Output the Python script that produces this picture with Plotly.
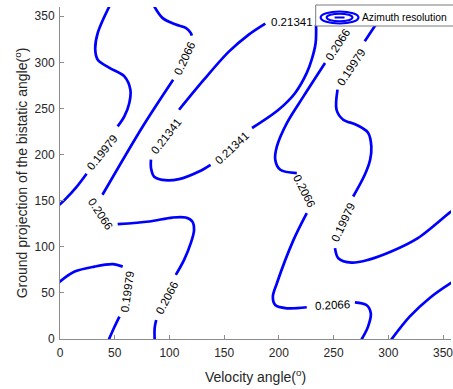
import plotly.graph_objects as go

# Contour levels of the azimuth resolution
LEVELS = [0.19979, 0.2066, 0.21341]

# Each branch: x = velocity angle (deg), y = ground projection of bistatic angle (deg)
# --- level 0.19979 ---
r1_upper_a_x = [45.2, 34.5, 32.2, 34.5, 45.2, 58.8, 64.3, 63.4, 58.8, 52.7]
r1_upper_a_y = [361.0, 331.9, 313.8, 302.9, 293.9, 284.8, 270.4, 256.2, 241.4, 230.5]
r1_upper_b_x = [24.3, 15.2, 4.3, -1.0]
r1_upper_b_y = [179.2, 165.0, 150.9, 145.0]
r1_lower_a_x = [-1.0, 13.4, 31.5, 48.2, 57.3]
r1_lower_a_y = [61.5, 73.1, 78.5, 81.1, 78.5]
r1_lower_b_x = [54.3, 49.3, 44.5]
r1_lower_b_y = [24.2, 11.9, -1.0]
r1_right_a_x = [300.5, 287.6, 278.5]
r1_right_a_y = [361.0, 339.1, 322.8]
r1_right_b_x = [253.6, 252.7, 258.8, 270.6, 281.5, 284.5, 283.4, 278.5, 267.9]
r1_right_b_y = [270.4, 248.6, 237.8, 232.4, 223.7, 208.8, 194.4, 178.1, 154.5]
r1_right_c_x = [251.3, 254.3, 266.4, 281.5, 302.7, 327.0, 357.0, 362.0]
r1_right_c_y = [98.5, 87.6, 82.8, 85.8, 94.8, 109.3, 137.9, 142.0]
r1_corner_x = [302.5, 319.5, 337.6, 357.0, 362.0]
r1_corner_y = [-1.0, 24.2, 44.2, 60.5, 64.0]

# --- level 0.2066 ---
r2_left_a_x = [86.0, 93.6, 105.8, 114.9, 119.5, 120.4]
r2_left_a_y = [361.0, 348.2, 340.9, 337.4, 331.9, 329.0]
r2_left_b_x = [103.4, 75.6, 38.8]
r2_left_b_y = [281.2, 230.5, 156.4]
r2_left_c_x = [52.7, 81.5, 102.7, 114.9, 120.9, 122.5, 119.5, 113.4, 105.8]
r2_left_c_y = [124.5, 127.4, 131.7, 131.7, 127.4, 118.3, 103.9, 85.8, 69.5]
r2_left_d_x = [87.9, 86.5, 86.5]
r2_left_d_y = [20.6, 11.9, -1.0]
r2_right_a_x = [276.5, 265.2]
r2_right_a_y = [361.0, 339.8]
r2_right_b_x = [242.2, 222.5, 207.3, 198.2, 196.7, 201.3, 216.4]
r2_right_b_y = [299.3, 263.1, 234.2, 208.8, 194.4, 183.5, 179.9]
r2_right_c_x = [225.5, 213.4, 198.2, 194.5, 196.7, 207.3, 225.5]
r2_right_c_y = [136.5, 107.5, 60.5, 45.9, 36.9, 33.3, 34.4]
r2_right_d_x = [269.5, 280.0, 284.0, 281.5, 275.3]
r2_right_d_y = [39.8, 36.9, 27.9, 13.4, -1.0]

# --- level 0.21341 (closed loop) ---
r3_a_x = [108.8, 131.5, 154.3, 172.5, 187.6]
r3_a_y = [248.6, 281.2, 311.6, 330.1, 342.0]
r3_b_x = [234.0, 233.6, 230.0, 225.5, 214.9, 199.7, 175.5]
r3_b_y = [340.9, 321.0, 302.9, 288.5, 266.8, 248.6, 228.8]
r3_c_x = [137.6, 127.0, 108.8, 93.4, 86.1, 83.1, 83.1]
r3_c_y = [188.9, 181.6, 173.4, 172.6, 175.9, 185.7, 194.4]

branches = [
    (r1_upper_a_x, r1_upper_a_y), (r1_upper_b_x, r1_upper_b_y),
    (r1_lower_a_x, r1_lower_a_y), (r1_lower_b_x, r1_lower_b_y),
    (r1_right_a_x, r1_right_a_y), (r1_right_b_x, r1_right_b_y),
    (r1_right_c_x, r1_right_c_y), (r1_corner_x, r1_corner_y),
    (r2_left_a_x, r2_left_a_y), (r2_left_b_x, r2_left_b_y),
    (r2_left_c_x, r2_left_c_y), (r2_left_d_x, r2_left_d_y),
    (r2_right_a_x, r2_right_a_y), (r2_right_b_x, r2_right_b_y),
    (r2_right_c_x, r2_right_c_y), (r2_right_d_x, r2_right_d_y),
    (r3_a_x, r3_a_y), (r3_b_x, r3_b_y), (r3_c_x, r3_c_y),
]

# Inline contour labels: level index, position, text angle
label_level = [0, 0, 0, 0, 1, 1, 1, 1, 1, 1, 2, 2, 2]
label_x = [38.8, 61.6, 266.1, 258.8, 113.4, 37.0, 97.5, 253.4, 223.4, 248.8, 97.0, 157.0, 211.6]
label_y = [203.0, 52.1, 295.3, 127.0, 304.0, 135.7, 45.0, 319.2, 160.7, 36.4, 220.4, 207.4, 343.6]
label_angle = [-51, -82, -56, -65, -65, 57, -62, -57, 63, -3, -52, -43, 0]

BLUE = "#0000ff"
FONT = "Liberation Sans, Arial, sans-serif"

fig = go.Figure()
for bx, by in branches:
    fig.add_trace(go.Scatter(
        x=bx, y=by, mode="lines", showlegend=False, hoverinfo="skip",
        line=dict(color=BLUE, width=2.7, shape="spline", smoothing=0.9),
    ))

annotations = []
for lv, lx, ly, la in zip(label_level, label_x, label_y, label_angle):
    annotations.append(dict(
        x=lx, y=ly, xref="x", yref="y", text=f"{LEVELS[lv]:g}",
        showarrow=False, textangle=la,
        font=dict(family=FONT, size=11.5, color="#000000"),
    ))

# Legend box with the contour icon
px0, pw = 60.0, 393.0
py0, ph = 339.0, 332.0
def fx(p):
    return (p - px0) / pw
def fy(p):
    return (py0 - p) / ph

shapes = [
    dict(type="rect", xref="paper", yref="paper",
         x0=fx(317), x1=fx(460), y0=fy(26), y1=fy(5),
         fillcolor="white", line=dict(color="#7a7a7a", width=1), layer="above"),
    dict(type="circle", xref="paper", yref="paper",
         x0=fx(322), x1=fx(360), y0=fy(23.5), y1=fy(11.5),
         line=dict(color=BLUE, width=2.2), layer="above"),
    dict(type="circle", xref="paper", yref="paper",
         x0=fx(328), x1=fx(354), y0=fy(21.3), y1=fy(13.7),
         line=dict(color=BLUE, width=2.0), layer="above"),
    dict(type="line", xref="paper", yref="paper",
         x0=fx(336), x1=fx(346), y0=fy(17.5), y1=fy(17.5),
         line=dict(color=BLUE, width=2.0), layer="above"),
]
annotations.append(dict(
    x=fx(362), y=fy(17), xref="paper", yref="paper", xanchor="left", yanchor="middle",
    text="Azimuth resolution", showarrow=False,
    font=dict(family=FONT, size=10.3, color="#000000"),
))

axis_common = dict(
    showgrid=False, zeroline=False, showline=True, linecolor="#8c8c8c", linewidth=1,
    ticks="inside", ticklen=4, tickcolor="#8c8c8c",
    tickfont=dict(family=FONT, size=12, color="#262626"),
    ticklabeloverflow="allow",
)

fig.update_layout(
    width=453, height=389,
    margin=dict(l=60, r=0, t=7, b=50),
    paper_bgcolor="white", plot_bgcolor="white",
    showlegend=False,
    xaxis=dict(range=[0, 357.3], tickvals=[0, 50, 100, 150, 200, 250, 300, 350],
               ticklabelstandoff=3,
               title=dict(text="Velocity angle(<sup>o</sup>)", standoff=12,
                          font=dict(family=FONT, size=14, color="#262626")),
               **axis_common),
    yaxis=dict(range=[0, 360], tickvals=[0, 50, 100, 150, 200, 250, 300, 350],
               ticklabelstandoff=2,
               title=dict(text="Ground projection of the bistatic angle(<sup>o</sup>)", standoff=3,
                          font=dict(family=FONT, size=14, color="#262626")),
               **axis_common),
    shapes=shapes,
    annotations=annotations,
)

fig.write_html("out.html")
